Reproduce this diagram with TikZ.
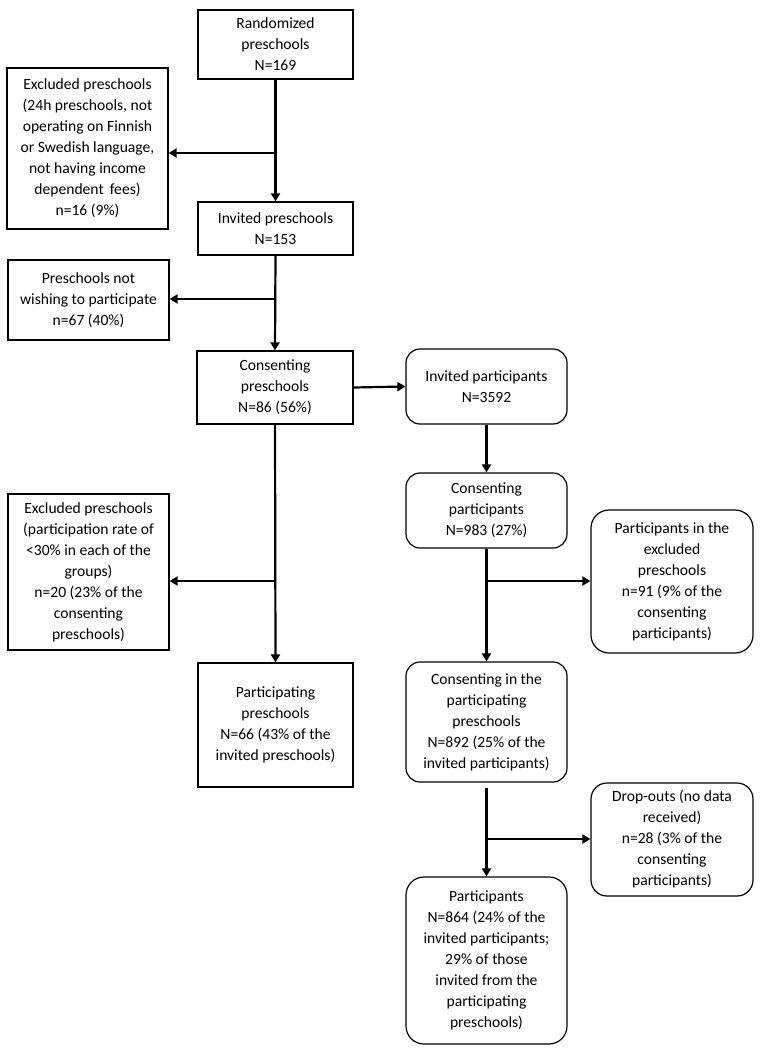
\documentclass[tikz,border=0pt]{standalone}
\usepackage{fontspec}
\setmainfont{Carlito}
\usetikzlibrary{arrows.meta}
\begin{document}
\begin{tikzpicture}[x=1pt,y=1pt,
  sq/.style={draw=black, line width=1.2pt, align=center, inner sep=2pt,
    font=\fontsize{15.6}{21}\selectfont},
  rd/.style={sq, rounded corners=14pt},
  arr/.style={line width=2.2pt, -{Triangle[length=8pt,width=9pt]}},
  ln/.style={line width=2pt}]
\useasboundingbox (0,0) rectangle (762,-1051);
% left column
\node[sq, minimum width=155pt, minimum height=69pt] (rand) at (275.5,-44.5) {Randomized\\preschools\\N=169};
\node[sq, minimum width=161pt, minimum height=161pt] (exc1) at (87.5,-148.5) {Excluded preschools\\(24h preschools, not\\operating on Finnish\\or Swedish language,\\not having income\\dependent\, fees)\\n=16 (9\%)};
\node[sq, minimum width=155pt, minimum height=53pt] (inv) at (275.5,-228.5) {Invited preschools\\N=153};
\node[sq, minimum width=161pt, minimum height=80pt] (notw) at (88.5,-300) {Preschools not\\wishing to participate\\n=67 (40\%)};
\node[sq, minimum width=156pt, minimum height=73pt] (cons) at (275,-387.5) {Consenting\\preschools\\N=86 (56\%)};
\node[sq, minimum width=161pt, minimum height=156pt] (exc2) at (88.5,-572) {Excluded preschools\\(participation rate of\\<30\% in each of the\\groups)\\n=20 (23\% of the\\consenting\\preschools)};
\node[sq, minimum width=155pt, minimum height=124pt] (ppre) at (275.5,-725) {Participating\\preschools\\N=66 (43\% of the\\invited preschools)};
% right column
\node[rd, minimum width=161pt, minimum height=75pt] (invp) at (486.5,-386.5) {Invited participants\\N=3592};
\node[rd, minimum width=161pt, minimum height=75pt] (consp) at (486.5,-510.5) {Consenting\\participants\\N=983 (27\%)};
\node[rd, rounded corners=18pt, minimum width=162pt, minimum height=143pt] (pexc) at (672,-581.5) {Participants in the\\excluded\\preschools\\n=91 (9\% of the\\consenting\\participants)};
\node[rd, minimum width=161pt, minimum height=120pt] (cip) at (486.5,-722) {Consenting in the\\participating\\preschools\\N=892 (25\% of the\\invited participants)};
\node[rd, rounded corners=16pt, minimum width=162pt, minimum height=113pt] (drop) at (672,-839.5) {Drop-outs (no data\\received)\\n=28 (3\% of the\\consenting\\participants)};
\node[rd, rounded corners=18pt, minimum width=161pt, minimum height=167pt] (part) at (486.5,-960.5) {Participants\\N=864 (24\% of the\\invited participants;\\29\% of those\\invited from the\\participating\\preschools)};
% branch points
\coordinate (b1) at (275,-153);
\coordinate (b2) at (275,-299);
\coordinate (b3) at (275,-581);
\coordinate (b4) at (486,-581);
\coordinate (b5) at (486,-839);
% connectors
\draw[arr] (rand.south) -- (inv.north);
\draw[arr] (b1) -- (b1 -| exc1.east);
\draw[arr] (inv.south) -- (cons.north);
\draw[arr] (b2) -- (b2 -| notw.east);
\draw[arr] (cons.east) -- (invp.west);
\draw[arr] (cons.south) -- (ppre.north);
\draw[arr] (b3) -- (b3 -| exc2.east);
\draw[arr] (invp.south) -- (consp.north);
\draw[arr] (consp.south) -- (cip.north);
\draw[arr] (b4) -- (b4 -| pexc.west);
\draw[arr] (cip.south) ++(0,-5) coordinate (c6) (c6) -- (part.north);
\draw[arr] (b5) -- (b5 -| drop.west);
\end{tikzpicture}
\end{document}
